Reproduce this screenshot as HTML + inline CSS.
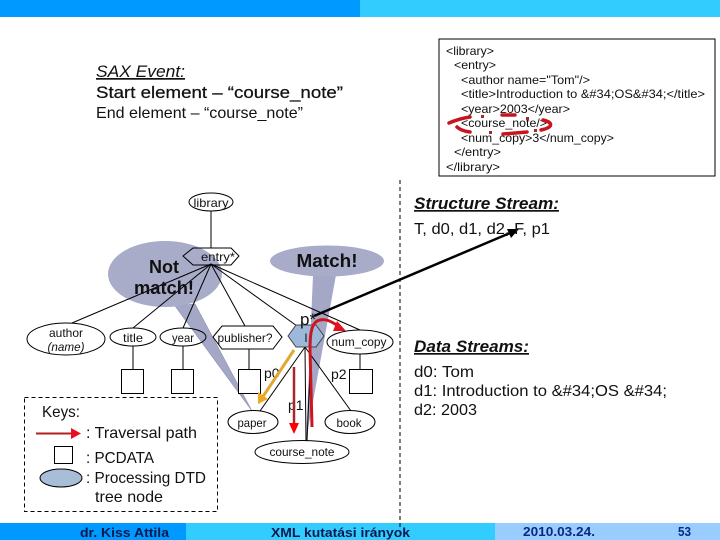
<!DOCTYPE html>
<html><head><meta charset="utf-8"><style>
html,body{margin:0;padding:0;background:#fff}
svg{display:block}
text{font-family:"Liberation Sans",Arial,sans-serif;fill:#111}
.n{font-size:12px;text-anchor:middle}
.c{font-size:12px}
.b{font-size:16px}
.h{font-size:17px;font-style:italic;text-decoration:underline}
.f{font-weight:bold;fill:#0a2a80;font-size:13px}
</style></head><body>
<svg width="720" height="540" viewBox="0 0 720 540" xmlns="http://www.w3.org/2000/svg">
<rect width="720" height="540" fill="#fff"/>
<rect width="360" height="17" fill="#0099ff"/><rect x="360" width="360" height="17" fill="#33ccff"/>
<rect y="523" width="186" height="17" fill="#0099ff"/><rect x="186" y="523" width="309" height="17" fill="#33ccff"/><rect x="495" y="523" width="225" height="17" fill="#99ccff"/>

<text x="96" y="77" class="h" textLength="89" lengthAdjust="spacingAndGlyphs">SAX Event:</text>
<text x="96" y="98" style="font-size:17px;stroke:#111;stroke-width:.25" textLength="247" lengthAdjust="spacingAndGlyphs">Start element – “course_note”</text>
<text x="96" y="118" class="b" textLength="207" lengthAdjust="spacingAndGlyphs">End element – “course_note”</text>

<rect x="439" y="39" width="276" height="137" fill="#fff" stroke="#000" stroke-width="1"/>
<text x="446" y="55" class="c" textLength="48" lengthAdjust="spacingAndGlyphs">&lt;library&gt;</text>
<text x="454" y="69" class="c" textLength="42" lengthAdjust="spacingAndGlyphs">&lt;entry&gt;</text>
<text x="461" y="84" class="c" textLength="129" lengthAdjust="spacingAndGlyphs">&lt;author name="Tom"/&gt;</text>
<text x="461" y="98" class="c" textLength="244" lengthAdjust="spacingAndGlyphs">&lt;title&gt;Introduction to &amp;#34;OS&amp;#34;&lt;/title&gt;</text>
<text x="461" y="113" class="c" textLength="109" lengthAdjust="spacingAndGlyphs">&lt;year&gt;2003&lt;/year&gt;</text>
<text x="461" y="127" class="c" textLength="86" lengthAdjust="spacingAndGlyphs">&lt;course_note/&gt;</text>
<text x="461" y="142" class="c" textLength="153" lengthAdjust="spacingAndGlyphs">&lt;num_copy&gt;3&lt;/num_copy&gt;</text>
<text x="454" y="156" class="c" textLength="47" lengthAdjust="spacingAndGlyphs">&lt;/entry&gt;</text>
<text x="446" y="171" class="c" textLength="54" lengthAdjust="spacingAndGlyphs">&lt;/library&gt;</text>
<path d="M449 123 C456 120 463 118 470 117 M502 115 H515 M543 120 C552 122 555 127 541 130 M527 132 L503 134 M470 132 C463 131 459 129 457 127" fill="none" stroke="#c8141e" stroke-width="3.500" stroke-linecap="round"/>
<path d="M481 115h3v3h-3zM526 117h3v3h-3zM489 131h3v3h-3zM534 129h3v3h-3z" fill="#a82828"/>

<line x1="400" y1="180" x2="400" y2="527" stroke="#000" stroke-dasharray="4 3"/>
<rect x="24.5" y="397.5" width="193" height="114" fill="none" stroke="#000" stroke-dasharray="4 3"/>

<!-- callouts -->
<path d="M175 306 L252 411 L195 304 Z" fill="#a4a8c6" stroke="#8c90b0" stroke-width=".6"/>
<ellipse cx="165" cy="274" rx="57" ry="33" fill="#a8acc8"/>
<path d="M313 275 L306 440 L336 275 Z" fill="#a4a8c6"/>
<ellipse cx="327" cy="261" rx="57" ry="15.5" fill="#a8acc8"/>

<!-- tree lines -->
<g stroke="#000" fill="none" stroke-width="1">
<line x1="211" y1="211" x2="211" y2="248"/>
<line x1="211" y1="264" x2="72" y2="323"/>
<line x1="211" y1="264" x2="133" y2="328"/>
<line x1="211" y1="264" x2="183" y2="328"/>
<line x1="211" y1="264" x2="245" y2="326"/>
<line x1="211" y1="264" x2="297" y2="326"/>
<line x1="211" y1="264" x2="360" y2="330"/>
<line x1="133" y1="346" x2="133" y2="369"/>
<line x1="183" y1="346" x2="183" y2="369"/>
<line x1="249" y1="349" x2="249" y2="369"/>
<line x1="360" y1="354" x2="360" y2="369"/>
<line x1="305" y1="347" x2="260" y2="411"/>
<line x1="305" y1="347" x2="351" y2="411"/>
<line x1="305" y1="347" x2="306" y2="441"/>
<line x1="311" y1="347" x2="307" y2="441"/>
</g>
<g fill="#fff" stroke="#000">
<rect x="121.500" y="369.500" width="22" height="24"/>
<rect x="171.500" y="369.500" width="22" height="24"/>
<rect x="238.500" y="369.500" width="22" height="24"/>
<rect x="349.500" y="369.500" width="23" height="24"/>
<rect x="54.500" y="446.500" width="18" height="17"/>
</g>
<g fill="none" stroke="#000">
<ellipse cx="211" cy="202" rx="22" ry="9" fill="#fff"/>
<ellipse cx="66" cy="339" rx="39" ry="16" fill="#fff"/>
<ellipse cx="133" cy="337" rx="23" ry="9"/>
<ellipse cx="183" cy="337" rx="23" ry="9"/>
<ellipse cx="360" cy="342" rx="33" ry="12" fill="#fff"/>
<ellipse cx="253" cy="422" rx="25" ry="11.500" fill="#fff"/>
<ellipse cx="350" cy="422" rx="25" ry="11.500" fill="#fff"/>
<ellipse cx="302" cy="452" rx="47" ry="11.500" fill="#fff"/>
<path d="M183 256 L193 248 H231 L239 256 L231 265 H193 Z"/>
<path d="M213 337 L222 326 H273 L282 337 L273 349 H222 Z" fill="#fff"/>
</g>
<path d="M288 336 L296 325 H316 L324 336 L316 347 H296 Z" fill="#9db8d8" stroke="#444"/>
<ellipse cx="61" cy="478" rx="21" ry="9" fill="#a8bdd8" stroke="#000"/>

<!-- node labels -->
<text x="211" y="207" class="n" textLength="35" lengthAdjust="spacingAndGlyphs">library</text>
<text x="218" y="261" class="n" textLength="34" lengthAdjust="spacingAndGlyphs">entry*</text>
<text x="66" y="337" class="n" textLength="34" lengthAdjust="spacingAndGlyphs">author</text>
<text x="66" y="351" class="n" font-style="italic" textLength="37" lengthAdjust="spacingAndGlyphs">(name)</text>
<text x="133" y="342" class="n" textLength="20" lengthAdjust="spacingAndGlyphs">title</text>
<text x="183" y="342" class="n" textLength="22" lengthAdjust="spacingAndGlyphs">year</text>
<text x="245" y="342" class="n" textLength="55" lengthAdjust="spacingAndGlyphs">publisher?</text>
<text x="306" y="342" class="n">l</text>
<text x="359" y="346" class="n" textLength="55" lengthAdjust="spacingAndGlyphs">num_copy</text>
<text x="252" y="427" class="n" textLength="29" lengthAdjust="spacingAndGlyphs">paper</text>
<text x="349" y="427" class="n" textLength="25" lengthAdjust="spacingAndGlyphs">book</text>
<text x="302" y="456" class="n" textLength="65" lengthAdjust="spacingAndGlyphs">course_note</text>

<text x="164" y="273" style="font-size:18px;font-weight:bold;text-anchor:middle">Not</text>
<text x="164" y="294" style="font-size:18px;font-weight:bold;text-anchor:middle" textLength="60" lengthAdjust="spacingAndGlyphs">match!</text>
<text x="327" y="267" style="font-size:18px;font-weight:bold;text-anchor:middle" textLength="61" lengthAdjust="spacingAndGlyphs">Match!</text>
<text x="300" y="325" style="font-size:17px">p*</text>
<text x="264" y="378" style="font-size:14px">p0</text>
<text x="331" y="379" style="font-size:14px">p2</text>
<text x="288" y="410" style="font-size:14px">p1</text>

<!-- arrows -->
<line x1="294" y1="350" x2="262" y2="398" stroke="#e0a830" stroke-width="3"/>
<path d="M258 404 L258 392 L268 399 Z" fill="#f0a820"/>
<line x1="294" y1="367" x2="294" y2="424" stroke="#a82828" stroke-width="2.500"/>
<path d="M289 423 H299 L294 434 Z" fill="#f00"/>
<path d="M312 427 L310 350 C310 335 311 325 317 321 C325 317 332 322 340 327" fill="none" stroke="#d0141e" stroke-width="3"/>
<path d="M346 331 L333 331 L337 321 Z" fill="#e8101c"/>
<line x1="314" y1="316" x2="510" y2="233" stroke="#000" stroke-width="2.500"/>
<path d="M519 229 L507 229 L511 238 Z" fill="#000"/>

<!-- right side -->
<text x="414" y="209" class="h" style="font-weight:bold;font-size:17px" textLength="145" lengthAdjust="spacingAndGlyphs">Structure Stream:</text>
<text x="414" y="234" class="b" textLength="136" lengthAdjust="spacingAndGlyphs">T, d0, d1, d2, F, p1</text>
<text x="414" y="352" class="h" style="font-weight:bold;font-size:17px" textLength="115" lengthAdjust="spacingAndGlyphs">Data Streams:</text>
<text x="414" y="377" class="b" textLength="60" lengthAdjust="spacingAndGlyphs">d0: Tom</text>
<text x="414" y="396" class="b" textLength="253" lengthAdjust="spacingAndGlyphs">d1: Introduction to &amp;#34;OS &amp;#34;</text>
<text x="414" y="415" class="b" textLength="63" lengthAdjust="spacingAndGlyphs">d2: 2003</text>

<!-- legend -->
<text x="42" y="417" class="b" textLength="38" lengthAdjust="spacingAndGlyphs">Keys:</text>
<line x1="36" y1="433.500" x2="72" y2="433.500" stroke="#b02020" stroke-width="2"/>
<path d="M81 433.500 L71 428 V439 Z" fill="#e8101c"/>
<text x="86" y="438" class="b" textLength="111" lengthAdjust="spacingAndGlyphs">: Traversal path</text>
<text x="86" y="463" class="b" textLength="68" lengthAdjust="spacingAndGlyphs">: PCDATA</text>
<text x="86" y="483" class="b" textLength="120" lengthAdjust="spacingAndGlyphs">: Processing DTD</text>
<text x="95" y="502" class="b" textLength="68" lengthAdjust="spacingAndGlyphs">tree node</text>

<text x="80" y="537" style="font-size:13px;font-weight:bold;fill:#0a1a50" textLength="89" lengthAdjust="spacingAndGlyphs">dr. Kiss Attila</text>
<text x="271" y="537" style="font-size:13px;font-weight:bold;fill:#0a1a50" textLength="139" lengthAdjust="spacingAndGlyphs">XML kutatási irányok</text>
<text x="523" y="536" class="f" textLength="72" lengthAdjust="spacingAndGlyphs">2010.03.24.</text>
<text x="678" y="536" class="f" textLength="13" lengthAdjust="spacingAndGlyphs">53</text>
</svg>
</body></html>
